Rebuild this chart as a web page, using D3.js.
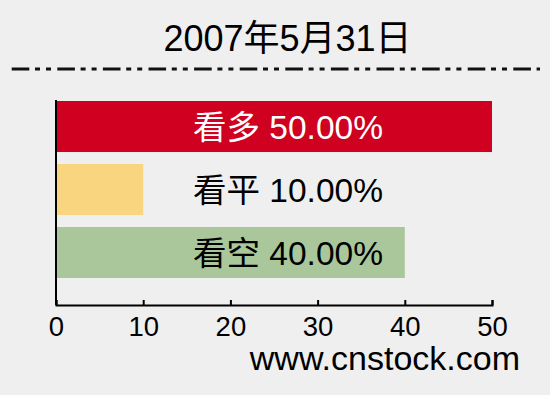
<!DOCTYPE html>
<html>
  <head>
    <meta charset="utf-8">
    <script src="https://cdnjs.cloudflare.com/ajax/libs/d3/7.8.5/d3.min.js"></script>
    <style type="text/css">
      body {
        margin: 0;
        padding: 0;
        background: #efefef;
      }
      #chart {
        width: 550px;
        height: 395px;
      }
      text {
        font-family: "Liberation Sans", "Noto Sans CJK SC", sans-serif;
      }
    </style>
  </head>
  <body>
    <div id="chart"></div>
    <script type="text/javascript">
    // chart data
    const title = '2007年5月31日';
    const categories = ['看多', '看平', '看空'];
    const values = [50, 10, 40];
    const barColors = ['#cf0020', '#fad57f', '#a9c79a'];
    const labelColors = ['#ffffff', '#000000', '#000000'];
    const xTicks = [0, 10, 20, 30, 40, 50];
    const source = 'www.cnstock.com';

    const width = 550, height = 395;
    const svg = d3.select('#chart')
      .append('svg')
      .attr('width', width)
      .attr('height', height);

    svg.append('rect')
      .attr('width', width)
      .attr('height', height)
      .attr('fill', '#efefef');

    const x = d3.scaleLinear().domain([0, 50]).range([56, 492]);
    const y = d3.scaleBand().domain(categories).range([101, 278]).paddingInner(0.19);
    const axisY = 305;

    // title + dash-dot rule
    svg.append('text')
      .attr('x', 287.5)
      .attr('y', 51)
      .attr('text-anchor', 'middle')
      .attr('font-size', 36)
      .attr('fill', '#000')
      .text(title);

    svg.append('line')
      .attr('x1', 11.7)
      .attr('x2', 540)
      .attr('y1', 69)
      .attr('y2', 69)
      .attr('stroke', '#111')
      .attr('stroke-width', 3)
      .attr('stroke-dasharray', '17.6 5.7 5 6 5 6.3');

    // bars
    const data = categories.map((c, i) => ({cat: c, value: values[i], i: i}));

    svg.selectAll('.bar')
      .data(data)
      .enter()
      .append('rect')
      .attr('class', 'bar')
      .attr('x', x(0))
      .attr('y', d => y(d.cat))
      .attr('width', d => x(d.value) - x(0))
      .attr('height', y.bandwidth())
      .attr('fill', d => barColors[d.i]);

    svg.selectAll('.bar-label')
      .data(data)
      .enter()
      .append('text')
      .attr('class', 'bar-label')
      .attr('x', 288)
      .attr('y', d => y(d.cat) + y.bandwidth() / 2)
      .attr('dy', '0.36em')
      .attr('text-anchor', 'middle')
      .attr('font-size', 33.5)
      .attr('fill', d => labelColors[d.i])
      .text(d => `${d.cat} ${d.value.toFixed(2)}%`);

    // axes
    svg.append('line')
      .attr('x1', x(0))
      .attr('x2', x(0))
      .attr('y1', 100)
      .attr('y2', axisY)
      .attr('stroke', '#000')
      .attr('stroke-width', 2);

    const xAxis = svg.append('g')
      .attr('transform', `translate(0,${axisY})`)
      .call(d3.axisBottom(x).tickValues(xTicks).tickSize(-5).tickPadding(11).tickFormat(d3.format('d')));

    xAxis.select('.domain').attr('stroke', '#000').attr('stroke-width', 2);
    xAxis.selectAll('.tick line').attr('stroke', '#000').attr('stroke-width', 2);
    xAxis.selectAll('.tick text')
      .attr('fill', '#000')
      .attr('font-size', 27.5)
      .attr('font-family', '"Liberation Sans", sans-serif');

    svg.append('text')
      .attr('x', 520)
      .attr('y', 370)
      .attr('text-anchor', 'end')
      .attr('font-size', 34)
      .attr('fill', '#000')
      .text(source);
    </script>
  </body>
</html>
